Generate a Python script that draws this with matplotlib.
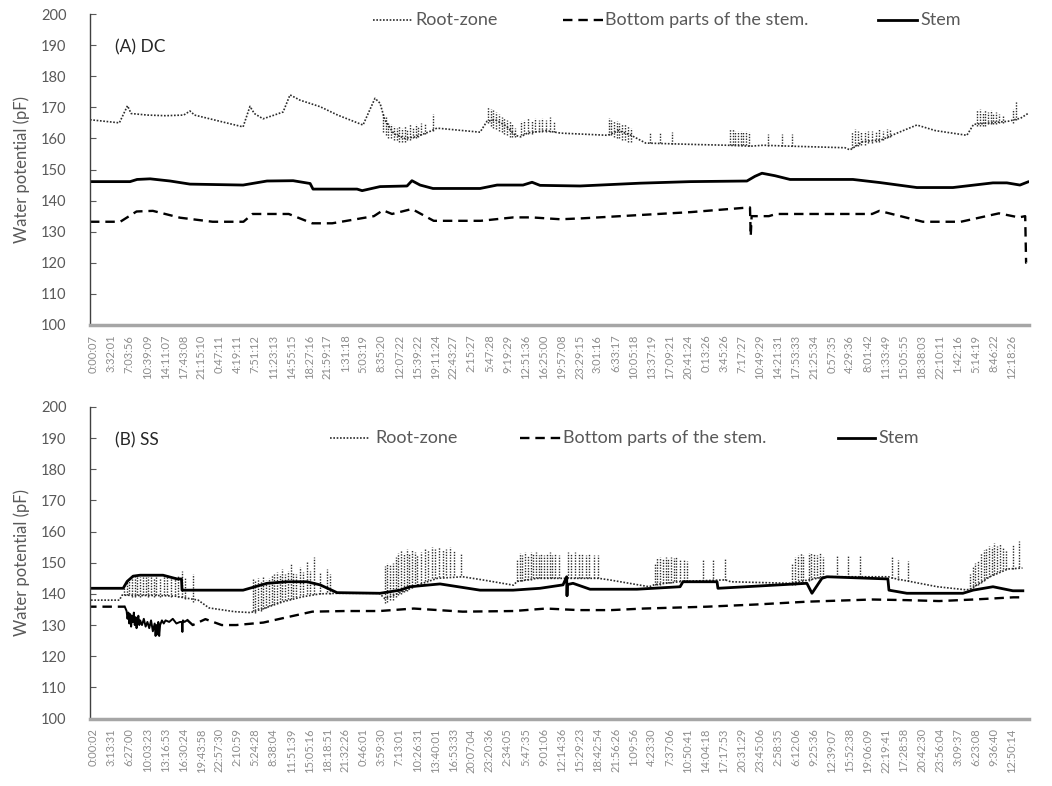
import numpy as np
import matplotlib
matplotlib.use("Agg")
import matplotlib.pyplot as plt

plt.rcParams['font.family'] = ['Lato', 'DejaVu Sans']

nan = np.nan

# etiquetas del eje x (una cada ~3.5 h)
dc_labels = ['0:00:07', '3:32:01', '7:03:56', '10:39:09', '14:11:07', '17:43:08', '21:15:10',
             '0:47:11', '4:19:11', '7:51:12', '11:23:13', '14:55:15', '18:27:16', '21:59:17',
             '1:31:18', '5:03:19', '8:35:20', '12:07:22', '15:39:22', '19:11:24', '22:43:27',
             '2:15:27', '5:47:28', '9:19:29', '12:51:36', '16:25:00', '19:57:08', '23:29:15',
             '3:01:16', '6:33:17', '10:05:18', '13:37:19', '17:09:21', '20:41:24', '0:13:26',
             '3:45:26', '7:17:27', '10:49:29', '14:21:31', '17:53:33', '21:25:34', '0:57:35',
             '4:29:36', '8:01:42', '11:33:49', '15:05:55', '18:38:03', '22:10:11', '1:42:16',
             '5:14:19', '8:46:22', '12:18:26']
ss_labels = ['0:00:02', '3:13:31', '6:27:00', '10:03:23', '13:16:53', '16:30:24', '19:43:58',
             '22:57:30', '2:10:59', '5:24:28', '8:38:04', '11:51:39', '15:05:16', '18:18:51',
             '21:32:26', '0:46:01', '3:59:30', '7:13:01', '10:26:31', '13:40:01', '16:53:33',
             '20:07:04', '23:20:36', '2:34:05', '5:47:35', '9:01:06', '12:14:36', '15:29:23',
             '18:42:54', '21:56:26', '1:09:56', '4:23:30', '7:37:06', '10:50:41', '14:04:18',
             '17:17:53', '20:31:29', '23:45:06', '2:58:35', '6:12:06', '9:25:36', '12:39:07',
             '15:52:38', '19:06:09', '22:19:41', '17:28:58', '20:42:30', '23:56:04', '3:09:37',
             '6:23:08', '9:36:40', '12:50:14']

series_names = ['Root-zone', 'Bottom parts of the stem.', 'Stem']

# ---------------- (A) DC ----------------
dc_root_x = [-0.17, 1.45, 1.9, 2.1, 3.0, 4.0, 5.0, 5.35, 5.6, 7.0, 8.28, 8.66, 8.9, 9.38, 10.0,
             10.49, 10.87, 11.42, 12.53, 13.5, 14.9, 15.56, 15.84, 16.1, 16.6, 17.2, 17.8, 18.5,
             18.98, 21.36, 21.74, 22.2, 22.8, 23.3, 23.6, 24.0, 25.0, 25.8, 28.4, 29.0, 29.7,
             30.5, 33.5, 35.0, 36.3, 37.0, 38.5, 41.5, 41.78, 42.5, 43.5, 44.5, 45.47, 46.5,
             48.23, 48.6, 49.5, 50.5, 51.2, 51.6]
dc_root_y = [166.0, 165.0, 170.5, 168.0, 167.5, 167.3, 167.5, 168.8, 167.5, 165.5, 163.7, 170.3,
             168.0, 166.3, 167.5, 168.5, 174.0, 172.3, 170.2, 167.5, 164.3, 172.9, 171.3, 166.0,
             161.5, 160.0, 160.5, 162.0, 163.3, 162.0, 165.5, 166.0, 164.0, 161.0, 160.5, 161.8,
             162.5, 161.7, 161.0, 162.5, 161.0, 158.5, 158.0, 157.8, 157.5, 157.8, 157.5, 157.0,
             156.3, 159.0, 159.5, 162.0, 164.3, 162.5, 161.0, 164.5, 165.0, 165.5, 166.5, 168.0]

# picos del sensor de raiz (x, minimo, maximo)
dc_spk_x = [16.0, 16.15, 16.3, 16.45, 16.6, 16.75, 16.9, 17.05, 17.2, 17.35, 17.5, 17.65, 17.8,
            17.95, 18.1, 18.3, 18.76,
            21.8, 21.95, 22.1, 22.25, 22.4, 22.55, 22.7, 22.85, 23.0, 23.15, 23.3, 23.6, 23.8,
            24.0, 24.2, 24.4, 24.6, 24.8, 25.0, 25.2, 25.45,
            28.45, 28.6, 28.75, 28.9, 29.05, 29.2, 29.35, 29.5, 29.7, 30.74, 31.29, 31.95,
            35.15, 35.3, 35.45, 35.6, 35.75, 35.9, 36.05, 36.2, 37.25, 38.02, 38.58,
            41.9, 42.05, 42.2, 42.4, 42.6, 42.8, 43.0, 43.2, 43.4, 43.6, 43.8, 44.0,
            48.8, 48.95, 49.1, 49.25, 49.4, 49.55, 49.7, 49.85, 50.0, 50.2, 50.75, 50.95]
dc_spk_low = [162, 161, 160, 160, 159.5, 159.5, 159, 159, 159, 159.5, 159.5, 160, 160, 160.5,
              161, 161.5, 162.5,
              165, 164, 163.5, 163, 162.5, 162, 161.5, 161, 160.5, 160.5, 160.5, 161, 161.5,
              161.5, 161.5, 162, 162, 162, 162, 162, 162,
              161, 161, 160.5, 160, 160, 159.5, 159.5, 159, 159, 158.5, 158.5, 158.3,
              158, 158, 158, 157.8, 157.8, 157.8, 157.8, 157.7, 157.5, 157.5, 157.5,
              157, 157.5, 157.5, 158, 158, 158.5, 158.5, 159, 159, 159.5, 160, 160.5,
              164, 164, 164, 164, 164.5, 164.5, 164.5, 164.5, 165, 165, 165, 166]
dc_spk_high = [168, 167, 165, 164.5, 164, 163.5, 164, 163.5, 164, 163, 164.5, 163.5, 164.5, 164,
               165, 164.5, 168,
               170, 169.5, 169, 168.5, 168, 167, 166.5, 166, 165.5, 164.5, 163.5, 165.5, 166,
               166.5, 165.5, 166.5, 166, 166.5, 166, 167, 165.5,
               166.5, 166, 165.5, 165.5, 165, 164.5, 164.5, 164, 163.5, 162, 162, 162,
               163, 163, 162.5, 162.5, 162.5, 162, 162.5, 162, 161.5, 161.5, 161.5,
               162, 163, 162.5, 162, 162.5, 162.5, 162.5, 162.5, 163, 162.5, 163, 163,
               169, 169.5, 168.5, 169, 168.5, 169, 168, 168.5, 168, 167.5, 169.5, 172]

dc_bot_x = [-0.17, 1.5, 2.4, 3.3, 4.8, 6.6, 8.3, 8.8, 10.8, 12.1, 13.2, 15.5, 16.0, 16.5, 17.6,
            18.8, 21.4, 23.2, 24.2, 25.8, 27.0, 30.0, 33.0, 36.2, 36.26, 36.3, 36.35, 37.3, 37.7,
            43.0, 43.4, 45.8, 47.9, 50.0, 51.1, 51.45, 51.5, 51.52]
dc_bot_y = [133.2, 133.2, 136.5, 136.7, 134.5, 133.2, 133.2, 135.7, 135.7, 132.7, 132.7, 135.0,
            136.9, 135.7, 137.3, 133.5, 133.5, 134.6, 134.6, 134.0, 134.3, 135.3, 136.3, 137.8,
            137.8, 128.6, 135.0, 135.0, 135.7, 135.7, 136.7, 133.2, 133.2, 135.9, 134.6, 135.0,
            120.0, 120.0]

dc_stem_x = [-0.17, 2.04, 2.43, 3.15, 4.25, 5.35, 8.28, 9.6, 11.04, 11.98, 12.14, 14.57, 14.85,
             15.84, 17.33, 17.6, 18.05, 18.76, 21.36, 22.3, 23.73, 24.23, 24.67, 26.88, 30.19,
             32.95, 36.09, 36.53, 36.92, 37.64, 38.47, 41.94, 43.43, 45.47, 47.46, 49.67, 50.44,
             51.16, 51.6]
dc_stem_y = [146.1, 146.1, 146.8, 147.0, 146.3, 145.3, 145.0, 146.3, 146.4, 145.5, 143.7, 143.7,
             143.2, 144.5, 144.7, 146.4, 145.0, 143.9, 143.9, 145.0, 145.0, 145.9, 144.9, 144.7,
             145.6, 146.1, 146.3, 147.8, 148.8, 148.0, 146.8, 146.8, 145.8, 144.2, 144.2, 145.7,
             145.7, 145.0, 146.0]

# ---------------- (B) SS ----------------
ss_root_x = [-0.3, 1.45, 1.6, 2.5, 3.5, 4.5, 5.3, 5.8, 6.4, 7.8, 8.7, 9.5, 10.5, 11.5, 12.5,
             13.5, 15.8, 16.1, 17.0, 18.0, 19.0, 20.4, 21.5, 23.2, 23.4, 24.5, 27.9, 28.5, 30.7,
             31.0, 32.5, 34.9, 35.2, 38.5, 38.6, 40.4, 43.9, 44.1, 46.6, 48.2, 48.4, 49.5, 50.5,
             51.3]
ss_root_y = [138.0, 138.0, 139.6, 139.5, 139.5, 139.3, 138.5, 138.0, 135.5, 134.3, 134.0, 135.5,
             137.5, 139.0, 140.0, 140.2, 140.2, 138.5, 140.5, 143.0, 145.0, 145.5, 144.5, 142.8,
             144.0, 145.0, 145.0, 144.5, 142.3, 143.0, 144.0, 144.5, 143.9, 143.4, 143.5, 145.5,
             145.5, 145.1, 142.3, 141.3, 141.5, 145.5, 148.0, 148.3]

ss_spk_x = [1.7, 1.85, 2.0, 2.15, 2.3, 2.45, 2.6, 2.75, 2.9, 3.05, 3.2, 3.35, 3.5, 3.7, 3.9, 4.1,
            4.3, 4.5, 4.7, 4.9, 5.1, 5.5,
            8.8, 8.95, 9.1, 9.25, 9.4, 9.55, 9.7, 9.85, 10.0, 10.15, 10.3, 10.45, 10.6, 10.75,
            10.9, 11.05, 11.2, 11.4, 11.6, 11.8, 12.0, 12.2, 12.5, 12.9, 13.1,
            16.1, 16.25, 16.4, 16.55, 16.7, 16.85, 17.0, 17.15, 17.3, 17.45, 17.6, 17.75, 17.9,
            18.1, 18.3, 18.5, 18.7, 18.9, 19.1, 19.3, 19.5, 19.7, 19.9, 20.3,
            23.4, 23.55, 23.7, 23.85, 24.0, 24.15, 24.3, 24.45, 24.6, 24.75, 24.9, 25.05, 25.2,
            25.35, 25.5, 25.7, 26.2, 26.4, 26.6, 26.8, 27.0, 27.2, 27.4, 27.65, 27.85,
            31.0, 31.15, 31.3, 31.45, 31.6, 31.75, 31.9, 32.05, 32.2, 32.4, 32.6, 32.8, 33.66,
            34.22, 34.88,
            38.6, 38.75, 38.9, 39.05, 39.2, 39.5, 39.65, 39.8, 39.95, 40.1, 40.3, 41.06, 41.67,
            42.33, 44.1, 44.43, 44.98,
            48.4, 48.55, 48.7, 48.85, 49.0, 49.15, 49.3, 49.45, 49.6, 49.75, 49.9, 50.05, 50.2,
            50.4, 50.75, 51.1]
ss_spk_low = [139.5, 139.5, 140, 139, 139, 139.5, 139, 139.5, 139.5, 139, 139.5, 139, 139.5, 139,
              139.5, 139.5, 139, 139.5, 139, 139, 138.5, 137.5,
              134.5, 134, 135, 134.5, 135, 135.5, 136, 136.5, 137, 137, 137.5, 138, 138, 138.5,
              138.5, 139, 139, 139.5, 139.5, 140, 140, 140, 140, 140.5, 140,
              137, 137.5, 138, 138, 139, 139.5, 140, 140.5, 141, 141.5, 142, 142.5, 143, 143.5,
              144, 144.5, 145, 145, 145.5, 145.5, 146, 146, 146, 146,
              144, 144, 144, 144.5, 144.5, 144.5, 145, 145, 145, 145, 145, 145, 145, 145, 145,
              145, 145, 145, 145, 145, 145, 145, 145, 145, 145,
              143, 143, 143, 143.5, 143.5, 143.5, 143.5, 144, 144, 144, 144, 144, 144, 144, 144.5,
              143, 143, 143.5, 143.5, 143.5, 144, 144.5, 145, 145, 145.5, 145.5, 145.5, 145.5,
              145.5, 145, 144.5, 144,
              141.5, 142, 142.5, 143, 143.5, 144, 145, 145.5, 146, 146.5, 147, 147.5, 148, 148,
              148, 148.5]
ss_spk_high = [143, 144.5, 145, 146, 145.5, 146, 145.5, 146, 145.5, 145.5, 146, 145, 146, 145,
               145.5, 146, 145, 145.5, 146, 147.5, 145, 146.5,
               145, 144.5, 145, 144, 145.5, 144.5, 145, 146, 146.5, 147, 146.5, 148, 146.5,
               147.5, 149.5, 147, 146.5, 148.5, 147, 150.5, 147.5, 152, 147, 148, 146.5,
               149, 150, 149.5, 150, 152, 153, 154, 153, 154.5, 153, 154, 153.5, 152.5, 153.5,
               154.5, 154, 155, 154.5, 155, 154, 154.5, 155, 154, 153,
               151, 153, 152.5, 153.5, 152.5, 153.5, 153, 153.5, 152.5, 153, 152.5, 153, 153.5,
               152.5, 153, 152.5, 153.5, 153, 153.5, 153, 153, 152.5, 153, 152.5, 152.5,
               150, 151.5, 152, 151.5, 152, 151.5, 152, 151.5, 152, 151, 151, 150.5, 151, 151,
               151.5,
               150, 152, 152.5, 153, 152.5, 153, 153, 153, 152.5, 153, 152, 152.5, 152.5, 152.5,
               152, 151, 150.5,
               146.5, 148.5, 150, 151, 153, 154, 154.5, 155.5, 155, 156.5, 155.5, 156, 155, 154,
               156, 157]

ss_bot_x = [-0.33, 1.75, nan, 5.2, 5.5, 6.2, 7.1, 7.9, 9.4, 10.7, 12.1, 13.9, 15.8, 17.7, 20.4,
            23.2, 25.0, 26.8, 28.6, 30.4, 33.9, 36.6, 39.4, 43.0, 44.9, 46.7, 48.6, 50.8, 51.3]
ss_bot_y = [135.9, 135.9, nan, 131.6, 130.0, 131.9, 130.0, 130.0, 130.8, 132.5, 134.3, 134.5,
            134.5, 135.3, 134.3, 134.5, 135.3, 134.8, 134.8, 135.3, 135.9, 136.6, 137.5, 138.2,
            138.0, 137.7, 138.2, 138.9, 138.9]

# tramo con mucho ruido del sensor de la base del tallo
ss_noise_x = [1.75, 1.85, 1.9, 1.95, 2.0, 2.05, 2.1, 2.15, 2.2, 2.25, 2.3, 2.35, 2.4, 2.45, 2.5,
              2.55, 2.6, 2.7, 2.8, 2.9, 3.0, 3.1, 3.2, 3.3, 3.4, 3.45, 3.5, 3.55, 3.6, 3.65, 3.7,
              3.8, 3.9, 4.0, 4.2, 4.4, 4.6, 4.8, 4.9, 4.93, 4.96, 5.05, 5.2]
ss_noise_y = [135.9, 134.5, 132.0, 134.0, 130.5, 133.5, 129.5, 133.0, 131.0, 134.0, 130.0, 132.5,
              129.0, 131.5, 133.0, 130.0, 131.5, 130.0, 132.0, 129.5, 131.0, 129.0, 131.5, 128.0,
              130.5, 126.5, 130.0, 127.0, 131.0, 126.5, 130.0, 131.5, 130.5, 131.5, 131.0, 132.0,
              130.5, 131.0, 131.0, 127.8, 131.5, 131.0, 131.6]

ss_stem_x = [-0.33, 1.66, 1.88, 2.21, 2.59, 3.86, 4.64, 4.88, 4.91, 8.28, 9.6, 10.71, 11.81,
             12.53, 13.47, 15.84, 16.94, 17.49, 19.15, 21.36, 23.18, 24.67, 25.94, 26.14, 26.16,
             26.18, 26.49, 27.43, 30.02, 32.4, 32.56, 34.44, 34.49, 39.4, 39.68, 40.23, 40.51,
             43.87, 43.93, 44.92, 48.01, 48.57, 49.67, 50.77, 51.32]
ss_stem_y = [141.8, 141.8, 144.0, 145.7, 146.0, 146.0, 144.8, 144.8, 141.2, 141.2, 143.4, 143.9,
             143.9, 142.9, 140.4, 140.2, 141.2, 142.3, 143.2, 141.2, 141.2, 141.8, 142.9, 145.5,
             139.4, 143.0, 143.4, 141.5, 141.5, 142.3, 143.9, 143.9, 141.8, 143.4, 140.2, 145.0,
             145.5, 144.8, 141.2, 140.2, 140.2, 141.2, 142.3, 141.0, 141.0]

# estilos
COL_ROOT = '#2b2b2b'
DOT = (0, (1, 1))
DASH = (0, (4, 2.5))
TEXT_GRAY = '#595959'
TICK_STEP = 0.9945  # separacion entre etiquetas en unidades de x
ESTILOS = [dict(color=COL_ROOT, lw=1.2, ls=DOT),
           dict(color='black', lw=1.7, ls=DASH),
           dict(color='black', lw=2.0, ls='-')]


def dibujar_leyenda(ax, lineas_x, textos_x, y):
    # leyenda dibujada a mano para respetar la separacion original
    for (x0, x1), xt, nombre, est in zip(lineas_x, textos_x, series_names, ESTILOS):
        ax.plot([x0, x1], [y, y], transform=ax.transAxes, clip_on=False, **est)
        ax.text(xt, y, nombre, transform=ax.transAxes, va='center', ha='left',
                fontsize=13, color=TEXT_GRAY)


def dibujar_panel(ax, titulo, labels, root_x, root_y, spk_x, spk_low, spk_high,
                  bot_x, bot_y, stem_x, stem_y):
    ax.plot(root_x, root_y, **ESTILOS[0])
    ax.vlines(spk_x, spk_low, spk_high, color=COL_ROOT, lw=1.0, linestyles=DOT)
    ax.plot(bot_x, bot_y, **ESTILOS[1])
    ax.plot(stem_x, stem_y, **ESTILOS[2])

    ax.set_ylim(100, 200)
    ax.set_yticks(np.arange(100, 201, 10))
    ax.set_xlim(-0.17, 51.66)
    ax.set_xticks(np.arange(len(labels)) * TICK_STEP)
    ax.set_xticklabels(labels, rotation=90, fontsize=8, color='#8c8c8c')
    ax.tick_params(axis='x', length=0, pad=7)
    ax.tick_params(axis='y', direction='in', length=4, pad=17, labelsize=10.5,
                   labelcolor=TEXT_GRAY, color=TEXT_GRAY)
    for s in ['top', 'right']:
        ax.spines[s].set_visible(False)
    ax.spines['left'].set_color('#404040')
    ax.spines['left'].set_linewidth(1.0)
    ax.spines['bottom'].set_color('#a6a6a6')
    ax.spines['bottom'].set_linewidth(2.5)
    ax.set_ylabel('Water potential (pF)', fontsize=12, color=TEXT_GRAY, labelpad=8)

    ax.text(0.027, 0.875, titulo, transform=ax.transAxes, fontsize=12.5, color='#262626')


fig = plt.figure(figsize=(10.52, 7.86), dpi=100)
ax1 = fig.add_axes([90 / 1052, 1 - 325 / 786, 939 / 1052, 311 / 786])
ax2 = fig.add_axes([90 / 1052, 1 - 718.5 / 786, 939 / 1052, 311.5 / 786])

dibujar_panel(ax1, '(A) DC', dc_labels, dc_root_x, dc_root_y, dc_spk_x, dc_spk_low, dc_spk_high,
              dc_bot_x, dc_bot_y, dc_stem_x, dc_stem_y)
dibujar_leyenda(ax1, [(0.3014, 0.3429), (0.5037, 0.5463), (0.8392, 0.8807)],
                [0.346, 0.5485, 0.8839], 0.981)

dibujar_panel(ax2, '(B) SS', ss_labels, ss_root_x, ss_root_y, ss_spk_x, ss_spk_low, ss_spk_high,
              ss_bot_x, ss_bot_y, ss_stem_x, ss_stem_y)
ax2.plot(ss_noise_x, ss_noise_y, color='black', lw=1.4)
dibujar_leyenda(ax2, [(0.2556, 0.2982), (0.4579, 0.5027), (0.7966, 0.836)],
                [0.3035, 0.5037, 0.8392], 0.9005)

fig.savefig('out.png', dpi=100)
